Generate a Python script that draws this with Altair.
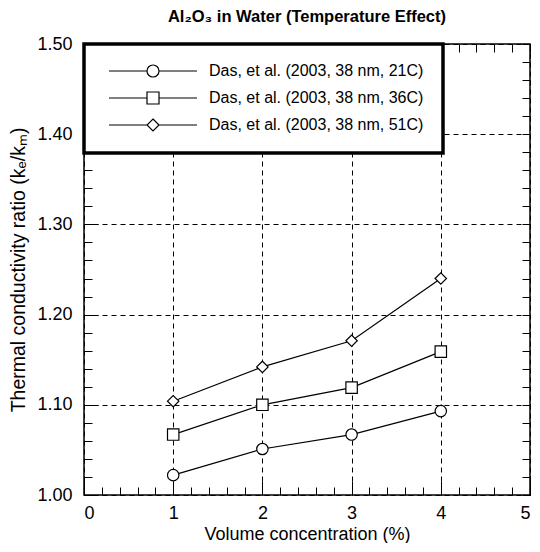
import altair as alt
import pandas as pd

# ---- data ----
series = [
    "Das, et al. (2003, 38 nm, 21C)",
    "Das, et al. (2003, 38 nm, 36C)",
    "Das, et al. (2003, 38 nm, 51C)",
]
volume = [1, 2, 3, 4]
ratio_21c = [1.022, 1.051, 1.067, 1.093]
ratio_36c = [1.067, 1.100, 1.119, 1.159]
ratio_51c = [1.104, 1.142, 1.171, 1.240]

x_major = [0, 1, 2, 3, 4, 5]
x_minor = [round(i * 0.2, 1) for i in range(26)]
y_major = [1.0, 1.1, 1.2, 1.3, 1.4, 1.5]
y_minor = [round(1.0 + i * 0.02, 2) for i in range(26)]

rows = []
for name, vals in zip(series, [ratio_21c, ratio_36c, ratio_51c]):
    for v, r in zip(volume, vals):
        rows.append({"series": name, "volume": v, "ratio": r})
df = pd.DataFrame(rows)

FONT = "Liberation Sans"
W, H = 446, 451

xs = alt.Scale(domain=[0, 5], nice=False, zero=False)
ys = alt.Scale(domain=[1.0, 1.5], nice=False, zero=False)

base = alt.Chart(df)


def tick_axis(orient, offset, values, size):
    return alt.Axis(orient=orient, offset=offset, values=values, tickSize=size,
                    labels=False, domain=False, grid=False, title=None,
                    ticks=True, tickColor="black", tickWidth=1)


grid_kw = dict(grid=True, gridColor="black", gridDash=[5, 4], gridWidth=1,
               ticks=False, domain=False)

lines = base.mark_line(color="black", strokeWidth=1.2).encode(
    x=alt.X("volume:Q", scale=xs,
            axis=alt.Axis(orient="bottom", values=x_major, format="d",
                          labelPadding=9, titlePadding=3, titleFontSize=18,
                          title="Volume concentration (%)", **grid_kw)),
    y=alt.Y("ratio:Q", scale=ys,
            axis=alt.Axis(orient="left", values=y_major, format=".2f",
                          labelPadding=12, titlePadding=8, titleFontSize=19.5,
                          title="Thermal conductivity ratio (kₑ/kₘ)", **grid_kw)),
    detail="series:N",
)

# legend symbols: a line with the marker in its middle
r = 1.0
L = 7.33
p_circle = f"M-{L},0H-{r}M{r},0H{L}M-{r},0A{r},{r} 0 1,0 {r},0A{r},{r} 0 1,0 -{r},0Z"
p_square = f"M-{L},0H-{r}M{r},0H{L}M-{r},-{r}H{r}V{r}H-{r}Z"
p_diamond = f"M-{L},0H-{r}M{r},0H{L}M0,-{r}L{r},0L0,{r}L-{r},0Z"

points = base.mark_point(filled=True, fill="white", stroke="black",
                         strokeWidth=1.2, size=130, opacity=1).encode(
    x=alt.X("volume:Q", scale=xs, axis=None),
    y=alt.Y("ratio:Q", scale=ys, axis=None),
    shape=alt.Shape("series:N",
                    scale=alt.Scale(domain=series, range=["circle", "square", "diamond"]),
                    legend=None),
)

legend_layer = base.transform_filter("datum.volume < 0").mark_point(
    filled=False, color="black", strokeWidth=1.2, size=144, opacity=1
).encode(
    x=alt.X("volume:Q", scale=xs, axis=None),
    y=alt.Y("ratio:Q", scale=ys, axis=None),
    shape=alt.Shape("series:N",
                    scale=alt.Scale(domain=series, range=[p_circle, p_square, p_diamond]),
                    legend=alt.Legend(
                        title=None, orient="none", legendX=0, legendY=0,
                        direction="vertical", fillColor="white", strokeColor="black",
                        padding=19, symbolSize=144, symbolStrokeWidth=1.2,
                        symbolStrokeColor="black", symbolOpacity=1,
                        symbolOffset=42, labelOffset=48, labelFont=FONT,
                        labelFontSize=16, labelColor="black", labelLimit=400,
                        rowPadding=9)),
)

ticks_a = base.mark_point(opacity=0).encode(
    x=alt.X("volume:Q", scale=xs, axis=tick_axis("top", -H, x_minor, 8)),
    y=alt.Y("ratio:Q", scale=ys, axis=tick_axis("right", -W, y_minor, 8)),
)
ticks_b = base.mark_point(opacity=0).encode(
    x=alt.X("volume:Q", scale=xs, axis=tick_axis("bottom", -H, x_minor, 8)),
    y=alt.Y("ratio:Q", scale=ys, axis=tick_axis("left", -W, y_minor, 8)),
)
ticks_c = base.mark_point(opacity=0).encode(
    x=alt.X("volume:Q", scale=xs, axis=tick_axis("top", -H, x_major, 14)),
    y=alt.Y("ratio:Q", scale=ys, axis=tick_axis("right", -W, y_major, 14)),
)

chart = alt.layer(lines, ticks_a, ticks_b, ticks_c, points, legend_layer).resolve_axis(
    x="independent", y="independent"
).resolve_scale(
    shape="independent"
).properties(
    width=W, height=H,
    padding={"left": 0, "top": 0, "right": 0, "bottom": 0},
    title=alt.Title("Al₂O₃ in Water (Temperature Effect)", font=FONT, fontSize=16.5,
                    fontWeight="bold", anchor="middle", offset=10, color="black"),
).configure_view(
    stroke="black", strokeWidth=1.5
).configure_axis(
    labelFont=FONT, titleFont=FONT, labelFontSize=18,
    labelColor="black", titleColor="black", titleFontWeight="normal"
).configure_legend(
    strokeWidth=3.5
)

chart.save("out.html", embed_options={"renderer": "svg", "actions": False})
